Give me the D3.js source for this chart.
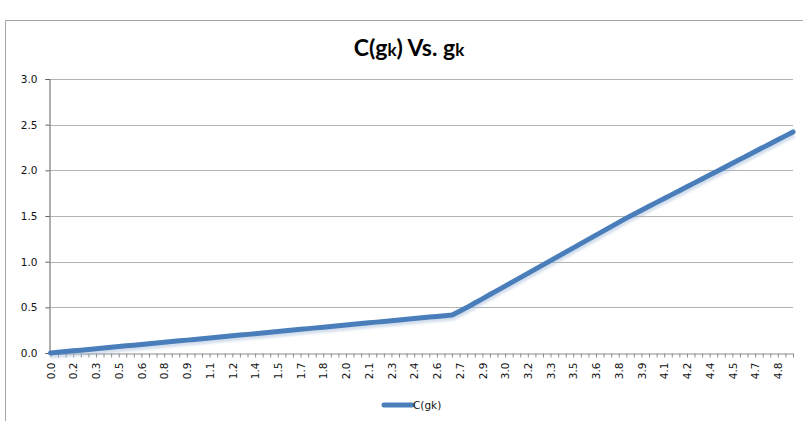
<!DOCTYPE html>
<html>
<head>
<meta charset="utf-8">
<script src="https://cdn.jsdelivr.net/npm/d3@7"></script>
<style>
  html, body { margin: 0; padding: 0; background: #fff; }
  svg { display: block; }
</style>
</head>
<body>
<svg id="chart" width="803" height="421"></svg>
<script>
// g_k categories (step 0.05)
const categories = [
  "0.00","0.05","0.10","0.15","0.20","0.25","0.30","0.35","0.40","0.45",
  "0.50","0.55","0.60","0.65","0.70","0.75","0.80","0.85","0.90","0.95",
  "1.00","1.05","1.10","1.15","1.20","1.25","1.30","1.35","1.40","1.45",
  "1.50","1.55","1.60","1.65","1.70","1.75","1.80","1.85","1.90","1.95",
  "2.00","2.05","2.10","2.15","2.20","2.25","2.30","2.35","2.40","2.45",
  "2.50","2.55","2.60","2.65","2.70","2.75","2.80","2.85","2.90","2.95",
  "3.00","3.05","3.10","3.15","3.20","3.25","3.30","3.35","3.40","3.45",
  "3.50","3.55","3.60","3.65","3.70","3.75","3.80","3.85","3.90","3.95",
  "4.00","4.05","4.10","4.15","4.20","4.25","4.30","4.35","4.40","4.45",
  "4.50","4.55","4.60","4.65","4.70","4.75","4.80","4.85","4.90"
];

// C(g_k) for each category
const costValues = [
  0.000,0.008,0.016,0.024,0.031,0.039,0.047,0.055,0.063,0.071,
  0.079,0.086,0.094,0.102,0.110,0.118,0.126,0.133,0.141,0.149,
  0.157,0.165,0.173,0.181,0.188,0.196,0.204,0.212,0.220,0.228,
  0.236,0.243,0.251,0.259,0.267,0.275,0.283,0.290,0.298,0.306,
  0.314,0.322,0.330,0.338,0.345,0.353,0.361,0.369,0.377,0.385,
  0.393,0.400,0.408,0.416,0.458,0.500,0.547,0.593,0.640,0.686,
  0.733,0.779,0.826,0.872,0.919,0.965,1.012,1.058,1.105,1.151,
  1.198,1.244,1.291,1.337,1.384,1.430,1.477,1.520,1.563,1.606,
  1.649,1.691,1.734,1.777,1.820,1.863,1.906,1.949,1.991,2.034,
  2.077,2.120,2.163,2.206,2.249,2.291,2.334,2.377,2.420
];

// Labels shown on every third category
const xTickLabels = [
  "0.0","0.2","0.3","0.5","0.6","0.8","0.9","1.1","1.2","1.4","1.5",
  "1.7","1.8","2.0","2.1","2.3","2.4","2.6","2.7","2.9","3.0","3.2",
  "3.3","3.5","3.6","3.8","3.9","4.1","4.2","4.4","4.5","4.7","4.8"
];
const labelEvery = 3;

const yTicks = [0, 0.5, 1.0, 1.5, 2.0, 2.5, 3.0];
const seriesName = "C(gk)";
const titleParts = [["C(g", false], ["k", true], [") Vs. g", false], ["k", true]];

const svg = d3.select("#chart");
const plot = { left: 50, right: 793, top: 79, bottom: 353 };
const lineColor = "#4a7ebb";
const tickFont = "'DejaVu Sans', Verdana, sans-serif";

const x = d3.scalePoint().domain(categories).range([plot.left + 0.5, plot.right]);
const y = d3.scaleLinear().domain([0, 3]).range([plot.bottom, plot.top]);

// Chart frame
svg.append("path")
  .attr("d", `M5.5,421 V20.5 H803`)
  .attr("fill", "none")
  .attr("stroke", "#a6a6a6")
  .attr("stroke-width", 1);

// Title
const title = svg.append("text")
  .attr("x", 409)
  .attr("y", 56)
  .attr("text-anchor", "middle")
  .attr("font-family", "Lato, 'Open Sans', sans-serif")
  .attr("font-weight", "bold")
  .attr("font-size", 23)
  .attr("fill", "#000");
titleParts.forEach(([t, small]) => {
  title.append("tspan")
    .attr("font-size", small ? 17 : 23)
    .text(t);
});

// Horizontal gridlines
svg.append("g")
  .selectAll("line")
  .data(yTicks.filter(d => d > 0))
  .join("line")
  .attr("x1", plot.left)
  .attr("x2", plot.right)
  .attr("y1", d => Math.round(y(d)) + 0.5)
  .attr("y2", d => Math.round(y(d)) + 0.5)
  .attr("stroke", "#b3b3b3")
  .attr("stroke-width", 1);

// Y axis
const yAxis = d3.axisLeft(y)
  .tickValues(yTicks)
  .tickFormat(d3.format(".1f"))
  .tickSize(4)
  .tickPadding(8);
svg.append("g")
  .attr("transform", `translate(${plot.left - 0.5},0)`)
  .call(yAxis)
  .call(g => g.select(".domain").attr("stroke", "#5e5e5e"))
  .call(g => g.selectAll(".tick line").attr("stroke", "#5e5e5e"))
  .call(g => g.selectAll(".tick text")
    .attr("font-family", tickFont)
    .attr("font-size", 10.5)
    .attr("fill", "#111"));

// X axis
const xAxis = d3.axisBottom(x)
  .tickSize(4)
  .tickSizeOuter(0)
  .tickFormat((d, i) => i % labelEvery === 0 ? xTickLabels[i / labelEvery] : "");
const xg = svg.append("g")
  .attr("transform", `translate(0,${plot.bottom + 0.5})`)
  .call(xAxis);
xg.select(".domain")
  .attr("stroke", "#8c8c8c")
  .attr("d", `M${plot.left},0.5H${plot.right}`);
xg.selectAll(".tick line").attr("stroke", "#8c8c8c");
xg.selectAll(".tick text")
  .attr("font-family", tickFont)
  .attr("font-size", 10.5)
  .attr("fill", "#111")
  .attr("text-anchor", "end")
  .attr("transform", "rotate(-90)")
  .attr("x", -9)
  .attr("y", 0)
  .attr("dy", "0.35em");

// Series line
const points = categories.map((c, i) => [c, costValues[i]]);
const line = d3.line().x(d => x(d[0])).y(d => y(d[1]));

const defs = svg.append("defs");
defs.append("filter")
  .attr("id", "soft")
  .attr("x", "-5%").attr("y", "-20%").attr("width", "110%").attr("height", "140%")
  .append("feGaussianBlur").attr("stdDeviation", 1.2);

svg.append("path")
  .datum(points)
  .attr("d", line)
  .attr("transform", "translate(1,3)")
  .attr("fill", "none")
  .attr("stroke", "#9fb7d6")
  .attr("stroke-opacity", 0.45)
  .attr("stroke-width", 5)
  .attr("filter", "url(#soft)");

svg.append("path")
  .datum(points)
  .attr("d", line)
  .attr("fill", "none")
  .attr("stroke", lineColor)
  .attr("stroke-width", 5)
  .attr("stroke-linejoin", "round")
  .attr("stroke-linecap", "round");

// Legend
const legend = svg.append("g").attr("transform", "translate(384,405)");
legend.append("line")
  .attr("x1", 0).attr("x2", 28)
  .attr("y1", 0).attr("y2", 0)
  .attr("stroke", lineColor)
  .attr("stroke-width", 5)
  .attr("stroke-linecap", "round");
legend.append("text")
  .attr("x", 29)
  .attr("y", 0)
  .attr("dy", "0.35em")
  .attr("font-family", tickFont)
  .attr("font-size", 10.5)
  .attr("fill", "#111")
  .text(seriesName);
</script>
</body>
</html>
